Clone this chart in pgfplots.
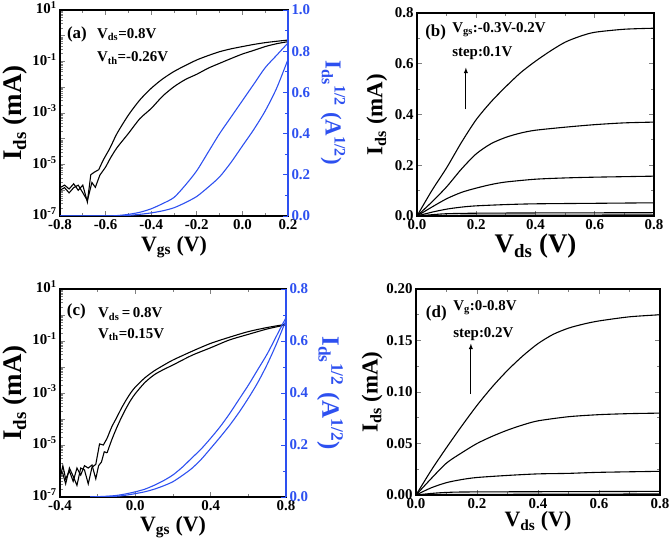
\documentclass[border=0pt]{standalone}
\usepackage{fontspec}
\setmainfont{Liberation Serif}
\usepackage{pgfplots}
\pgfplotsset{compat=1.18}
\definecolor{bl}{RGB}{45,80,240}
\tikzset{
  f1/.style={/pgf/number format/.cd, fixed, fixed zerofill, precision=1},
  f2/.style={/pgf/number format/.cd, fixed, fixed zerofill, precision=2},
  ann/.style={anchor=west, font=\fontsize{17}{17}\selectfont\bfseries, inner sep=0pt},
  ann2/.style={anchor=west, font=\fontsize{15}{15}\selectfont\bfseries, inner sep=0pt},
  mysm/.style={smooth, tension=0.45},
}
\newcommand{\fs}[1]{\fontsize{#1}{#1}\selectfont\bfseries}
\pgfplotsset{
  base/.style={scale only axis,
    font=\bfseries,
    axis line style={line width=1.1pt},
    tick style={line width=0.8pt},
    major tick length=5pt, minor tick length=3pt,
    tick align=inside,
    tick label style={font=\fs{15}},
    /pgf/number format/assume math mode=true,
    label style={font=\fs{22}},
    every axis plot/.append style={line width=1.1pt},
  },
  mylogax/.style={ymin=1e-7, ymax=1e1,
    ytick={1e-7,1e-6,1e-5,1e-4,1e-3,1e-2,1e-1,1e0,1e1},
    yticklabels={{10\textsuperscript{-7}},{},{10\textsuperscript{-5}},{},{10\textsuperscript{-3}},{},{10\textsuperscript{-1}},{},{10\textsuperscript{1}}},
    yticklabel style={yshift=2pt},
    minor ytick={2e-7,3e-7,4e-7,5e-7,6e-7,7e-7,8e-7,9e-7,
      2e-6,3e-6,4e-6,5e-6,6e-6,7e-6,8e-6,9e-6,
      2e-5,3e-5,4e-5,5e-5,6e-5,7e-5,8e-5,9e-5,
      2e-4,3e-4,4e-4,5e-4,6e-4,7e-4,8e-4,9e-4,
      2e-3,3e-3,4e-3,5e-3,6e-3,7e-3,8e-3,9e-3,
      2e-2,3e-2,4e-2,5e-2,6e-2,7e-2,8e-2,9e-2,
      2e-1,3e-1,4e-1,5e-1,6e-1,7e-1,8e-1,9e-1,
      2,3,4,5,6,7,8,9},
    ytick pos=left},
}
\begin{document}
\begin{tikzpicture}
\useasboundingbox (0bp,0bp) rectangle (670bp,545bp);
% ---------------- (a) ----------------
\begin{axis}[base, ymode=log, mylogax, at={(60bp,329bp)}, anchor=south west, width=228bp, height=206bp,
  xmin=-0.8, xmax=0.2,
  xtick={-0.8,-0.6,...,0.21}, minor x tick num=1, xticklabel style={f1},
  xlabel={V\textsubscript{gs} (V)}, ylabel={I\textsubscript{ds} (mA)},
  x label style={at={(axis description cs:0.5,-0.150)}, anchor=center},
  y label style={font=\fs{27}, at={(axis description cs:-0.197,0.5)}, anchor=center},
]
\addplot[black] coordinates {(-0.80,1.26e-6)(-0.78,1.58e-6)(-0.76,1.12e-6)(-0.74,1.78e-6)(-0.72,1.0e-6)(-0.70,1.58e-6)(-0.68,3.5e-7)(-0.665,4.0e-6)(-0.65,5.0e-6)(-0.63,6.3e-6)};
\addplot[black, mysm] coordinates {(-0.63,6.3e-6)(-0.61,1.5e-5)(-0.58,4.5e-5)(-0.55,1.6e-4)(-0.50,8.3e-4)(-0.45,3.2e-3)(-0.40,9.1e-3)(-0.35,2.1e-2)(-0.30,4.1e-2)(-0.25,7.0e-2)(-0.20,0.115)(-0.15,0.17)(-0.10,0.24)(-0.05,0.31)(0.00,0.38)(0.05,0.46)(0.10,0.54)(0.15,0.61)(0.20,0.68)};
\addplot[black] coordinates {(-0.80,1.0e-6)(-0.78,1.26e-6)(-0.76,7.9e-7)(-0.74,1.26e-6)(-0.72,1.58e-6)(-0.70,8.0e-7)(-0.68,4.0e-7)(-0.66,2.0e-6)(-0.645,1.3e-6)(-0.625,3.9e-6)};
\addplot[black, mysm] coordinates {(-0.625,3.9e-6)(-0.60,8.0e-6)(-0.58,1.7e-5)(-0.55,4.5e-5)(-0.50,1.6e-4)(-0.45,6.0e-4)(-0.40,1.5e-3)(-0.35,4.5e-3)(-0.30,1.05e-2)(-0.25,2.0e-2)(-0.20,3.2e-2)(-0.15,5.5e-2)(-0.10,8.5e-2)(-0.05,0.13)(0.00,0.195)(0.05,0.27)(0.10,0.38)(0.15,0.49)(0.20,0.59)};
\node[ann] at (rel axis cs:0.03,0.883) {(a)};
\node[ann2] at (rel axis cs:0.162,0.879) {V\textsubscript{ds}=0.8V};
\node[ann2] at (rel axis cs:0.162,0.767) {V\textsubscript{th}=-0.26V};
\end{axis}
\begin{axis}[base, at={(60bp,329bp)}, anchor=south west, width=228bp, height=206bp,
  xmin=-0.8, xmax=0.2, ymin=0, ymax=1.0,
  axis x line=none, axis y line*=right,
  y axis line style={bl}, ytick style={bl},
  yticklabel style={bl, f1}, ytick={0,0.2,...,1.01}, minor y tick num=1,
  ylabel={I\textsubscript{ds}\textsuperscript{1/2} (A\textsuperscript{1/2})},
  y label style={bl, font=\fs{23}, at={(axis description cs:1.197,0.5)}, anchor=center, rotate=180},
]
\addplot[bl, mysm] coordinates {(-0.80,0)(-0.60,0.0)(-0.55,0.002)(-0.50,0.008)(-0.45,0.018)(-0.40,0.035)(-0.35,0.06)(-0.30,0.09)(-0.25,0.15)(-0.20,0.22)(-0.15,0.31)(-0.10,0.40)(-0.05,0.48)(0.00,0.56)(0.05,0.64)(0.10,0.72)(0.15,0.78)(0.20,0.84)};
\addplot[bl, mysm] coordinates {(-0.80,0)(-0.55,0.0)(-0.50,0.003)(-0.45,0.008)(-0.40,0.015)(-0.35,0.025)(-0.30,0.04)(-0.25,0.065)(-0.20,0.095)(-0.15,0.14)(-0.10,0.19)(-0.05,0.26)(0.00,0.34)(0.05,0.42)(0.10,0.51)(0.15,0.62)(0.20,0.76)};
\end{axis}
% ---------------- (b) ----------------
\begin{axis}[base, at={(417bp,329bp)}, anchor=south west, width=237bp, height=203bp,
  xmin=0, xmax=0.8, ymin=0, ymax=0.8,
  xtick={0,0.2,...,0.81}, ytick={0,0.2,...,0.81}, minor tick num=1,
  xticklabel style={f1}, yticklabel style={f1},
  xlabel={V\textsubscript{ds} (V)}, ylabel={I\textsubscript{ds} (mA)},
  x label style={font=\fs{27}, at={(axis description cs:0.5,-0.148)}, anchor=center},
  y label style={font=\fs{23}, at={(axis description cs:-0.169,0.5)}, anchor=center},
]
\addplot[black, mysm] coordinates {(0,0)(0.05,0.10)(0.1,0.19)(0.15,0.29)(0.2,0.38)(0.25,0.45)(0.3,0.51)(0.35,0.565)(0.4,0.61)(0.45,0.65)(0.5,0.685)(0.55,0.708)(0.6,0.724)(0.7,0.736)(0.8,0.74)};
\addplot[black, mysm] coordinates {(0,0)(0.05,0.055)(0.1,0.115)(0.15,0.185)(0.2,0.245)(0.25,0.285)(0.3,0.31)(0.35,0.327)(0.4,0.338)(0.5,0.35)(0.6,0.36)(0.7,0.367)(0.8,0.37)};
\addplot[black, mysm] coordinates {(0,0)(0.05,0.035)(0.1,0.068)(0.15,0.093)(0.2,0.11)(0.25,0.124)(0.3,0.134)(0.4,0.145)(0.5,0.15)(0.6,0.153)(0.8,0.157)};
\addplot[black, mysm] coordinates {(0,0)(0.05,0.015)(0.1,0.027)(0.15,0.035)(0.2,0.04)(0.3,0.045)(0.4,0.048)(0.6,0.05)(0.8,0.052)};
\addplot[black, mysm] coordinates {(0,0)(0.05,0.005)(0.1,0.009)(0.2,0.011)(0.4,0.012)(0.8,0.013)};
\addplot[black, mysm] coordinates {(0,0)(0.1,0.002)(0.2,0.003)(0.8,0.004)};
\draw[-latex, line width=0.9pt] (axis cs:0.165,0.42) -- (axis cs:0.165,0.585);
\node[ann] at (rel axis cs:0.034,0.906) {(b)};
\node[ann2] at (rel axis cs:0.148,0.916) {V\textsubscript{gs}:-0.3V-0.2V};
\node[ann2] at (rel axis cs:0.148,0.80) {step:0.1V};
\end{axis}
% ---------------- (c) ----------------
\begin{axis}[base, ymode=log, mylogax, at={(60bp,48bp)}, anchor=south west, width=226bp, height=208bp,
  xmin=-0.4, xmax=0.8,
  xtick={-0.4,0,0.4,0.8}, minor x tick num=1, xticklabel style={f1},
  xlabel={V\textsubscript{gs} (V)}, ylabel={I\textsubscript{ds} (mA)},
  x label style={at={(axis description cs:0.5,-0.144)}, anchor=center},
  y label style={font=\fs{27}, at={(axis description cs:-0.199,0.5)}, anchor=center},
]
\addplot[black] coordinates {(-0.40,1.0e-6)(-0.385,8.0e-7)(-0.37,3.2e-7)(-0.35,1.3e-6)(-0.33,6.3e-7)(-0.31,2.8e-7)(-0.29,1.3e-6)(-0.27,1.1e-6)(-0.25,3.2e-7)(-0.23,1.4e-6)(-0.21,1.8e-6)(-0.19,1.1e-5)(-0.17,1.0e-5)(-0.15,1.8e-5)};
\addplot[black, mysm] coordinates {(-0.15,1.8e-5)(-0.125,5.0e-5)(-0.10,1.1e-4)(-0.075,2.5e-4)(-0.05,5.2e-4)(-0.025,1.0e-3)(0.00,1.7e-3)(0.05,3.8e-3)(0.10,7.1e-3)(0.15,1.17e-2)(0.20,1.86e-2)(0.30,4.0e-2)(0.40,8.1e-2)(0.50,0.14)(0.60,0.23)(0.70,0.33)(0.80,0.44)};
\addplot[black] coordinates {(-0.40,5.0e-7)(-0.385,1.6e-6)(-0.37,5.0e-7)(-0.35,1.0e-6)(-0.33,4.0e-7)(-0.31,1.3e-6)(-0.29,7.0e-7)(-0.27,1.6e-6)(-0.25,1.3e-6)(-0.23,1.7e-6)(-0.21,5.0e-7)(-0.195,1.6e-6)(-0.18,2.2e-6)(-0.165,5.5e-6)(-0.15,5.0e-6)};
\addplot[black, mysm] coordinates {(-0.15,5.0e-6)(-0.125,1.6e-5)(-0.10,4.4e-5)(-0.075,1.1e-4)(-0.05,2.5e-4)(-0.025,5.2e-4)(0.00,9.5e-4)(0.05,2.5e-3)(0.10,5.0e-3)(0.15,8.0e-3)(0.20,1.2e-2)(0.30,2.8e-2)(0.40,5.5e-2)(0.50,0.11)(0.60,0.18)(0.70,0.29)(0.80,0.42)};
\node[ann] at (rel axis cs:0.03,0.894) {(c)};
\node[ann2] at (rel axis cs:0.168,0.88) {V\textsubscript{ds}\,=\,0.8V};
\node[ann2] at (rel axis cs:0.168,0.78) {V\textsubscript{th}=0.15V};
\end{axis}
\begin{axis}[base, at={(60bp,48bp)}, anchor=south west, width=226bp, height=208bp,
  xmin=-0.4, xmax=0.8, ymin=0, ymax=0.8,
  axis x line=none, axis y line*=right,
  y axis line style={bl}, ytick style={bl},
  yticklabel style={bl, f1}, ytick={0,0.2,...,0.81}, minor y tick num=1,
  ylabel={I\textsubscript{ds}\textsuperscript{1/2} (A\textsuperscript{1/2})},
  y label style={bl, font=\fs{25}, at={(axis description cs:1.195,0.5)}, anchor=center, rotate=180},
]
\addplot[bl, mysm] coordinates {(-0.24,0)(-0.15,0.003)(-0.1,0.006)(-0.05,0.012)(0,0.02)(0.05,0.03)(0.1,0.045)(0.15,0.063)(0.2,0.085)(0.25,0.115)(0.3,0.15)(0.35,0.185)(0.4,0.226)(0.45,0.27)(0.5,0.32)(0.55,0.375)(0.6,0.43)(0.65,0.49)(0.7,0.55)(0.75,0.62)(0.8,0.69)};
\addplot[bl, mysm] coordinates {(-0.24,0)(-0.1,0.003)(-0.05,0.007)(0,0.013)(0.05,0.02)(0.1,0.03)(0.15,0.043)(0.2,0.059)(0.25,0.083)(0.3,0.11)(0.35,0.145)(0.4,0.187)(0.45,0.23)(0.5,0.275)(0.55,0.325)(0.6,0.38)(0.65,0.44)(0.7,0.51)(0.75,0.59)(0.8,0.68)};
\end{axis}
% ---------------- (d) ----------------
\begin{axis}[base, at={(416bp,50bp)}, anchor=south west, width=244bp, height=206bp,
  xmin=0, xmax=0.8, ymin=0, ymax=0.2,
  xtick={0,0.2,...,0.81}, ytick={0,0.05,...,0.201}, minor tick num=1,
  xticklabel style={f1}, yticklabel style={f2},
  xlabel={V\textsubscript{ds} (V)}, ylabel={I\textsubscript{ds} (mA)},
  x label style={at={(axis description cs:0.5,-0.128)}, anchor=center},
  y label style={font=\fs{23}, at={(axis description cs:-0.18,0.5)}, anchor=center},
]
\addplot[black, mysm] coordinates {(0,0)(0.05,0.024)(0.1,0.046)(0.15,0.067)(0.2,0.087)(0.25,0.105)(0.3,0.121)(0.35,0.135)(0.4,0.147)(0.45,0.156)(0.5,0.162)(0.55,0.166)(0.6,0.169)(0.7,0.173)(0.8,0.175)};
\addplot[black, mysm] coordinates {(0,0)(0.05,0.016)(0.1,0.031)(0.15,0.041)(0.2,0.05)(0.25,0.057)(0.3,0.063)(0.35,0.068)(0.4,0.072)(0.5,0.076)(0.6,0.078)(0.7,0.079)(0.8,0.0795)};
\addplot[black, mysm] coordinates {(0,0)(0.05,0.007)(0.1,0.012)(0.15,0.015)(0.2,0.017)(0.3,0.019)(0.4,0.0205)(0.5,0.021)(0.6,0.022)(0.8,0.023)};
\addplot[black, mysm] coordinates {(0,0)(0.05,0.0015)(0.1,0.0025)(0.2,0.003)(0.8,0.0035)};
\addplot[black, mysm] coordinates {(0,0)(0.1,0.0005)(0.8,0.001)};
\draw[-latex, line width=0.9pt] (axis cs:0.18,0.098) -- (axis cs:0.18,0.147);
\node[ann] at (rel axis cs:0.04,0.883) {(d)};
\node[ann2] at (rel axis cs:0.152,0.91) {V\textsubscript{g}:0-0.8V};
\node[ann2] at (rel axis cs:0.152,0.78) {step:0.2V};
\end{axis}
\end{tikzpicture}
\end{document}
